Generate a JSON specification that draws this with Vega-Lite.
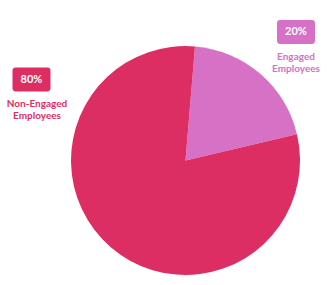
{
  "$schema": "https://vega.github.io/schema/vega-lite/v6.json",
  "autosize": {"type": "none"},
  "padding": {"left": 71, "top": 46, "right": 31, "bottom": 10},
  "width": 229,
  "height": 229,
  "background": "white",
  "config": {"view": {"stroke": null}, "font": "Lato"},
  "data": {
    "values": [
      {"category": "Engaged Employees", "value": 20, "pct": "20%", "name": "Engaged\nEmployees"},
      {"category": "Non-Engaged Employees", "value": 80, "pct": "80%", "name": "Non-Engaged\nEmployees"}
    ]
  },
  "resolve": {"scale": {"x": "independent", "y": "independent"}},
  "layer": [
    {
      "mark": {"type": "arc", "stroke": null},
      "encoding": {
        "theta": {"field": "value", "type": "quantitative", "stack": true, "scale": {"range": [0.083, 6.3662]}},
        "color": {"field": "category", "type": "nominal", "legend": null,
          "scale": {"domain": ["Engaged Employees", "Non-Engaged Employees"], "range": ["#D671C6", "#DD2E63"]}},
        "order": {"field": "category", "sort": "ascending"}
      }
    },
    {
      "mark": {"type": "point", "filled": true, "opacity": 1, "size": 1444,
        "shape": "M -0.85,-0.63 L 0.85,-0.63 A 0.15 0.15 0 0 1 1,-0.48 L 1,0.48 A 0.15 0.15 0 0 1 0.85,0.63 L -0.85,0.63 A 0.15 0.15 0 0 1 -1,0.48 L -1,-0.48 A 0.15 0.15 0 0 1 -0.85,-0.63 Z"},
      "encoding": {
        "x": {"field": "category", "type": "nominal", "axis": null,
          "scale": {"type": "point", "padding": 0, "domain": ["Non-Engaged Employees", "Engaged Employees"], "range": [-39.5, 225]}},
        "y": {"field": "category", "type": "nominal", "axis": null,
          "scale": {"type": "point", "padding": 0, "domain": ["Non-Engaged Employees", "Engaged Employees"], "range": [33.5, -14]}},
        "color": {"field": "category", "type": "nominal", "legend": null,
          "scale": {"domain": ["Engaged Employees", "Non-Engaged Employees"], "range": ["#D671C6", "#DD2E63"]}}
      }
    },
    {
      "mark": {"type": "text", "color": "white", "fontWeight": "bold", "fontSize": 11, "baseline": "middle", "align": "center"},
      "encoding": {
        "x": {"field": "category", "type": "nominal", "axis": null,
          "scale": {"type": "point", "padding": 0, "domain": ["Non-Engaged Employees", "Engaged Employees"], "range": [-39.5, 225]}},
        "y": {"field": "category", "type": "nominal", "axis": null,
          "scale": {"type": "point", "padding": 0, "domain": ["Non-Engaged Employees", "Engaged Employees"], "range": [33.5, -14]}},
        "text": {"field": "pct", "type": "nominal"}
      }
    },
    {
      "mark": {"type": "text", "fontWeight": "bold", "fontSize": 10, "baseline": "top", "align": "center", "lineBreak": "\n", "lineHeight": 12},
      "encoding": {
        "x": {"field": "category", "type": "nominal", "axis": null,
          "scale": {"type": "point", "padding": 0, "domain": ["Non-Engaged Employees", "Engaged Employees"], "range": [-34, 225]}},
        "y": {"field": "category", "type": "nominal", "axis": null,
          "scale": {"type": "point", "padding": 0, "domain": ["Non-Engaged Employees", "Engaged Employees"], "range": [52.5, 5.5]}},
        "color": {"field": "category", "type": "nominal", "legend": null,
          "scale": {"domain": ["Engaged Employees", "Non-Engaged Employees"], "range": ["#D671C6", "#DD2E63"]}},
        "text": {"field": "name", "type": "nominal"}
      }
    }
  ]
}
